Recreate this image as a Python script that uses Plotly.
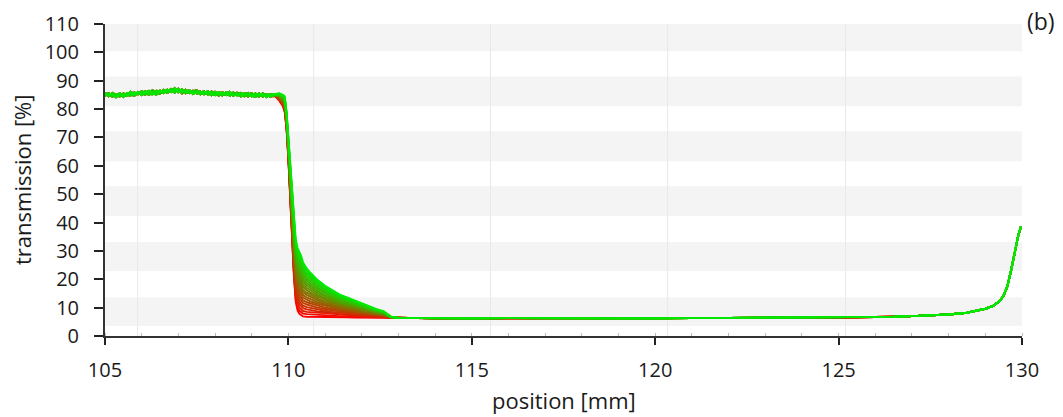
import plotly.graph_objects as go

# ---------------- data ----------------
# plateau region (shared x), four noisy measured variants
plateau_x = [105.0, 105.1, 105.2, 105.3, 105.4, 105.5, 105.6, 105.7, 105.8, 105.9,
             106.0, 106.1, 106.2, 106.3, 106.4, 106.5, 106.6, 106.7, 106.8, 106.9,
             107.0, 107.1, 107.2, 107.3, 107.4, 107.5, 107.6, 107.7, 107.8, 107.9,
             108.0, 108.1, 108.2, 108.3, 108.4, 108.5, 108.6, 108.7, 108.8, 108.9,
             109.0, 109.1, 109.2, 109.3, 109.4, 109.5]
plateau_a = [85.8, 84.7, 85.3, 84.2, 85.3, 85.0, 84.6, 86.1, 85.2, 85.9,
             84.9, 85.8, 86.4, 85.5, 85.1, 86.5, 86.1, 86.9, 86.0, 87.4,
             85.9, 86.6, 86.0, 86.7, 85.3, 86.0, 86.2, 85.2, 86.3, 85.5,
             84.9, 85.9, 85.6, 84.9, 86.1, 84.9, 85.3, 84.4, 85.6, 85.3,
             84.5, 85.5, 84.7, 85.3, 84.2, 85.0]
plateau_b = [84.9, 85.6, 84.4, 85.1, 85.5, 84.5, 85.4, 85.2, 84.7, 86.1,
             85.7, 85.1, 86.1, 86.6, 85.7, 85.4, 86.6, 86.0, 87.1, 86.4,
             86.8, 85.5, 86.8, 85.9, 86.3, 86.6, 85.3, 85.9, 85.2, 86.2,
             85.8, 84.7, 85.9, 85.4, 84.9, 85.9, 85.0, 85.5, 84.5, 85.1,
             85.6, 84.6, 85.4, 84.4, 85.1, 84.6]
plateau_c = [85.4, 84.5, 85.7, 85.0, 84.4, 85.5, 84.9, 84.8, 85.9, 85.2,
             86.3, 85.5, 85.1, 86.2, 86.1, 85.6, 86.8, 85.7, 86.5, 87.0,
             86.1, 87.0, 85.6, 86.3, 86.5, 85.5, 85.7, 86.3, 85.1, 85.9,
             86.1, 85.2, 84.8, 86.0, 85.4, 84.7, 85.8, 85.0, 85.4, 84.4,
             85.4, 85.0, 84.4, 85.6, 84.6, 85.3]
plateau_d = [84.7, 85.4, 85.1, 84.6, 85.6, 84.3, 85.7, 85.5, 85.0, 85.4,
             86.0, 86.3, 85.3, 85.2, 86.5, 86.3, 85.6, 86.5, 86.8, 85.8,
             87.2, 86.1, 86.5, 85.6, 86.1, 86.4, 85.2, 86.0, 85.8, 84.9,
             86.0, 85.5, 85.1, 85.9, 84.7, 85.5, 84.8, 85.7, 85.0, 85.7,
             84.7, 84.3, 85.5, 84.7, 85.3, 84.4]

# edge / drop region (shared x), one list per scan (red -> green)
drop_x = [109.65, 109.75, 109.85, 109.9, 109.95, 110.0, 110.05, 110.1, 110.15, 110.2,
          110.25, 110.3, 110.35, 110.4, 110.5, 110.6, 110.8, 111.0, 111.2, 111.4,
          111.6, 111.8, 112.0, 112.2, 112.4, 112.6, 112.8]
drop_00 = [84.5, 83.0, 81.0, 79.0, 73.0, 62.0, 48.0, 34.0, 21.0, 12.0, 9.0, 7.8, 7.2, 6.9, 6.8, 6.8, 6.7, 6.7, 6.6, 6.6, 6.6, 6.5, 6.5, 6.5, 6.5, 6.5, 6.4]
drop_01 = [84.5, 83.1, 81.2, 79.3, 73.3, 62.4, 48.6, 34.8, 22.0, 13.1, 10.1, 8.9, 8.3, 7.9, 7.7, 7.6, 7.4, 7.3, 7.1, 7.0, 7.0, 6.8, 6.8, 6.7, 6.7, 6.6, 6.4]
drop_02 = [84.6, 83.3, 81.4, 79.6, 73.6, 62.8, 49.1, 35.5, 22.9, 14.2, 11.2, 10.0, 9.3, 8.8, 8.5, 8.4, 8.0, 7.8, 7.6, 7.4, 7.3, 7.1, 7.0, 6.9, 6.8, 6.7, 6.4]
drop_03 = [84.6, 83.4, 81.6, 79.8, 73.9, 63.2, 49.7, 36.3, 23.9, 15.3, 12.3, 11.1, 10.4, 9.8, 9.4, 9.1, 8.7, 8.4, 8.0, 7.8, 7.7, 7.4, 7.3, 7.1, 7.0, 6.8, 6.5]
drop_04 = [84.6, 83.5, 81.8, 80.1, 74.2, 63.6, 50.2, 37.0, 24.8, 16.4, 13.4, 12.2, 11.4, 10.7, 10.2, 9.9, 9.3, 8.9, 8.5, 8.2, 8.0, 7.7, 7.5, 7.3, 7.1, 6.9, 6.5]
drop_05 = [84.7, 83.7, 82.0, 80.4, 74.5, 64.0, 50.8, 37.8, 25.8, 17.5, 14.5, 13.3, 12.5, 11.7, 11.1, 10.7, 10.0, 9.5, 9.0, 8.6, 8.4, 8.0, 7.8, 7.5, 7.3, 7.1, 6.5]
drop_06 = [84.7, 83.8, 82.2, 80.7, 74.8, 64.4, 51.3, 38.5, 26.7, 18.6, 15.6, 14.4, 13.5, 12.6, 11.9, 11.5, 10.6, 10.0, 9.5, 9.0, 8.7, 8.3, 8.0, 7.7, 7.4, 7.2, 6.5]
drop_07 = [84.7, 83.9, 82.4, 80.9, 75.1, 64.8, 51.9, 39.3, 27.7, 19.7, 16.7, 15.5, 14.6, 13.6, 12.8, 12.2, 11.3, 10.6, 9.9, 9.4, 9.1, 8.6, 8.3, 7.9, 7.6, 7.3, 6.5]
drop_08 = [84.8, 84.0, 82.6, 81.2, 75.4, 65.2, 52.4, 40.0, 28.6, 20.8, 17.8, 16.6, 15.6, 14.5, 13.6, 13.0, 11.9, 11.1, 10.4, 9.8, 9.4, 8.9, 8.5, 8.1, 7.7, 7.4, 6.6]
drop_09 = [84.8, 84.2, 82.8, 81.5, 75.7, 65.6, 53.0, 40.8, 29.6, 21.9, 18.9, 17.7, 16.7, 15.5, 14.5, 13.8, 12.6, 11.7, 10.9, 10.2, 9.8, 9.2, 8.8, 8.3, 7.9, 7.5, 6.6]
drop_10 = [84.9, 84.3, 83.0, 81.8, 76.0, 66.0, 53.5, 41.5, 30.5, 23.0, 20.0, 18.8, 17.7, 16.4, 15.3, 14.6, 13.2, 12.2, 11.4, 10.6, 10.1, 9.5, 9.0, 8.5, 8.0, 7.6, 6.6]
drop_11 = [84.9, 84.4, 83.2, 82.0, 76.3, 66.4, 54.1, 42.3, 31.5, 24.1, 21.1, 19.9, 18.8, 17.4, 16.2, 15.3, 13.9, 12.8, 11.8, 11.0, 10.5, 9.8, 9.3, 8.7, 8.2, 7.7, 6.6]
drop_12 = [84.9, 84.6, 83.4, 82.3, 76.6, 66.8, 54.6, 43.0, 32.4, 25.2, 22.2, 21.0, 19.8, 18.3, 17.0, 16.1, 14.5, 13.3, 12.3, 11.4, 10.8, 10.1, 9.5, 8.9, 8.3, 7.8, 6.6]
drop_13 = [85.0, 84.7, 83.6, 82.6, 76.9, 67.2, 55.2, 43.8, 33.4, 26.3, 23.3, 22.1, 20.9, 19.3, 17.9, 16.9, 15.2, 13.9, 12.8, 11.8, 11.2, 10.4, 9.8, 9.1, 8.5, 7.9, 6.7]
drop_14 = [85.0, 84.8, 83.8, 82.9, 77.2, 67.6, 55.7, 44.5, 34.3, 27.4, 24.4, 23.2, 21.9, 20.2, 18.7, 17.7, 15.8, 14.4, 13.3, 12.2, 11.5, 10.7, 10.0, 9.3, 8.6, 8.0, 6.7]
drop_15 = [85.0, 85.0, 84.0, 83.1, 77.5, 68.0, 56.3, 45.3, 35.3, 28.5, 25.5, 24.3, 23.0, 21.2, 19.6, 18.4, 16.5, 15.0, 13.7, 12.6, 11.9, 11.0, 10.3, 9.5, 8.8, 8.2, 6.7]
drop_16 = [85.1, 85.1, 84.2, 83.4, 77.8, 68.4, 56.8, 46.0, 36.2, 29.6, 26.6, 25.4, 24.0, 22.1, 20.4, 19.2, 17.1, 15.5, 14.2, 13.0, 12.2, 11.3, 10.5, 9.7, 8.9, 8.3, 6.7]
drop_17 = [85.1, 85.2, 84.4, 83.7, 78.1, 68.8, 57.4, 46.8, 37.2, 30.7, 27.7, 26.5, 25.1, 23.1, 21.3, 20.0, 17.8, 16.1, 14.7, 13.4, 12.6, 11.6, 10.8, 9.9, 9.1, 8.4, 6.7]
drop_18 = [85.1, 85.3, 84.6, 84.0, 78.4, 69.2, 57.9, 47.5, 38.1, 31.8, 28.8, 27.6, 26.1, 24.0, 22.1, 20.8, 18.4, 16.6, 15.2, 13.8, 12.9, 11.9, 11.0, 10.1, 9.2, 8.5, 6.8]
drop_19 = [85.2, 85.5, 84.8, 84.2, 78.7, 69.6, 58.5, 48.3, 39.1, 32.9, 29.9, 28.7, 27.2, 25.0, 23.0, 21.5, 19.1, 17.2, 15.6, 14.2, 13.3, 12.2, 11.3, 10.3, 9.4, 8.6, 6.8]
drop_20 = [85.2, 85.6, 85.0, 84.5, 79.0, 70.0, 59.0, 49.0, 40.0, 34.0, 31.0, 29.8, 28.2, 25.9, 23.8, 22.3, 19.7, 17.7, 16.1, 14.6, 13.6, 12.5, 11.5, 10.5, 9.5, 8.7, 6.8]

# low-transmission region and far edge (shared by all scans)
tail_x = [113.0, 113.5, 114.0, 115.0, 116.0, 117.0, 118.0, 119.0, 120.0, 121.0,
          122.0, 123.0, 124.0, 125.0, 126.0, 126.5, 127.0, 127.5, 128.0, 128.5,
          128.8, 129.0, 129.2, 129.4, 129.5, 129.6, 129.7, 129.8, 129.9, 129.97]
tail_y = [6.4, 6.3, 6.2, 6.2, 6.3, 6.2, 6.2, 6.2, 6.2, 6.3,
          6.3, 6.3, 6.4, 6.5, 6.6, 6.8, 7.0, 7.3, 7.6, 8.2,
          8.9, 9.6, 10.5, 12.4, 14.3, 17.5, 23.0, 29.5, 35.5, 38.5]

drops = [drop_00, drop_01, drop_02, drop_03, drop_04, drop_05, drop_06, drop_07,
         drop_08, drop_09, drop_10, drop_11, drop_12, drop_13, drop_14, drop_15,
         drop_16, drop_17, drop_18, drop_19, drop_20]
plateaus = [plateau_a, plateau_b, plateau_c, plateau_d]

x_ticks = [105, 110, 115, 120, 125, 130]
y_ticks = [0, 10, 20, 30, 40, 50, 60, 70, 80, 90, 100, 110]

# ---------------- figure ----------------
FONT = "'Open Sans', sans-serif"
TXT = "#1a1a1a"
fig = go.Figure()

n = len(drops)
for k, drop in enumerate(drops):
    f = k / (n - 1)
    color = f"rgb({round(255 * (1 - f))},{round(235 * f)},0)"
    xs = plateau_x + drop_x + tail_x
    ys = plateaus[k % 4] + drop + tail_y
    fig.add_trace(go.Scatter(x=xs, y=ys, mode="lines",
                             line=dict(color=color, width=1.9),
                             showlegend=False, hoverinfo="skip"))

# background bands and faint vertical guide lines
band_ranges = [(3.5, 13.7), (22.9, 33.1), (42.3, 52.8), (61.6, 72.2), (81.0, 91.5), (100.4, 110.0)]
for lo, hi in band_ranges:
    fig.add_shape(type="rect", xref="x domain", yref="y", x0=0, x1=1, y0=lo, y1=hi,
                  fillcolor="#f4f4f4", line=dict(width=0), layer="below")
guide_x = [105.89, 110.69, 115.51, 120.34, 125.19]
for gx in guide_x:
    fig.add_shape(type="line", xref="x", yref="y domain", x0=gx, x1=gx, y0=0, y1=1,
                  line=dict(color="#e8e8e8", width=1), layer="below")

fig.add_annotation(text="(b)", xref="paper", yref="paper", x=1.003, y=1.01,
                   xanchor="left", yanchor="middle", showarrow=False,
                   font=dict(family=FONT, size=23, color=TXT))
fig.add_annotation(text="position [mm]", xref="paper", yref="paper", x=0.5, y=0,
                   xanchor="center", yanchor="middle", yshift=-64, showarrow=False,
                   font=dict(family=FONT, size=22, color=TXT))
fig.add_annotation(text="transmission [%]", xref="paper", yref="paper", x=0, y=0.5,
                   xanchor="center", yanchor="middle", xshift=-83, textangle=-90,
                   showarrow=False, font=dict(family=FONT, size=22, color=TXT))

fig.update_layout(
    width=1063, height=417,
    margin=dict(l=105, r=41, t=24, b=81),
    paper_bgcolor="white", plot_bgcolor="white",
    font=dict(family=FONT, color=TXT),
    xaxis=dict(range=[105, 130], tickvals=x_ticks, ticks="outside", ticklen=7,
               tickwidth=1.5, tickcolor="#222", showline=True, linecolor="#333",
               linewidth=2, showgrid=False, zeroline=False, automargin=False,
               tickfont=dict(family=FONT, size=20, color=TXT),
               ticklabelstandoff=8,
               minor=dict(ticks="inside", dtick=1, ticklen=3, tickcolor="#bbbbbb",
                          tickwidth=1, showgrid=False)),
    yaxis=dict(range=[0, 110], tickvals=y_ticks, ticks="outside", ticklen=9,
               tickwidth=1.5, tickcolor="#222", showline=True, linecolor="#333",
               linewidth=2, showgrid=False, zeroline=False, automargin=False,
               tickfont=dict(family=FONT, size=20, color=TXT),
               ticklabelstandoff=11),
)

fig.write_html("out.html", config={"displayModeBar": False},
               post_script="document.body.style.margin='0';document.body.style.overflow='hidden';")
